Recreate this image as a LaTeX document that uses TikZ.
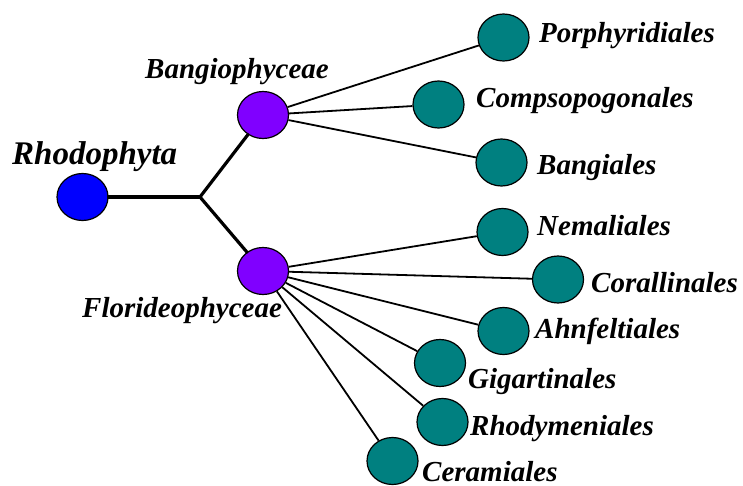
\documentclass[tikz,border=0pt]{standalone}
\usepackage{fontspec}
\setmainfont{Liberation Serif}
\usetikzlibrary{shapes.geometric}
\definecolor{rootblue}{HTML}{0000FF}
\definecolor{classviolet}{HTML}{8000FF}
\definecolor{orderteal}{HTML}{008080}
\tikzset{
  blob/.style={ellipse, draw=black, line width=1.2pt, inner sep=0pt,
    minimum width=51pt, minimum height=47pt},
  rootblob/.style={blob, fill=rootblue},
  classblob/.style={blob, fill=classviolet},
  orderblob/.style={blob, fill=orderteal},
  stem/.style={line width=3.2pt, line cap=round},
  twig/.style={line width=1.8pt},
  lbl/.style={anchor=base west, inner sep=0pt,
    font=\fontsize{29}{32}\selectfont\bfseries\itshape},
  biglbl/.style={anchor=base west, inner sep=0pt,
    font=\fontsize{33}{36}\selectfont\bfseries\itshape}
}
\begin{document}
\begin{tikzpicture}[x=1pt,y=-1pt]
\useasboundingbox (0,0) rectangle (743,486);

% root, classes and orders
\node[rootblob]  (rho)  at (82.5,197) {};
\coordinate (j) at (200,197);
\node[classblob] (ban)  at (263,115) {};
\node[classblob] (flo)  at (263,271) {};

\node[orderblob] (por)  at (503.5,37.5) {};
\node[orderblob] (com)  at (438.5,104.5) {};
\node[orderblob] (bag)  at (501.5,162.5) {};

\node[orderblob] (nem)  at (502.5,232) {};
\node[orderblob] (cor)  at (558,279.5) {};
\node[orderblob] (ahn)  at (503.5,331) {};
\node[orderblob] (gig)  at (440,363) {};
\node[orderblob] (rhy)  at (442.5,422) {};
\node[orderblob] (cer)  at (392.5,461) {};

% trunk
\draw[stem] (rho) -- (j);
\draw[stem] (j) -- (ban);
\draw[stem] (j) -- (flo);

% branches
\foreach \t in {por,com,bag} \draw[twig] (ban) -- (\t);
\foreach \t in {nem,cor,ahn,gig,rhy,cer} \draw[twig] (flo) -- (\t);

% labels
\node[biglbl] (lrho) at (12,165) {Rhodophyta};
\node[lbl] (lban) at (145,79)  {Bangiophyceae};
\node[lbl] (lflo) at (82,317)  {Florideophyceae};
\node[lbl] (lpor) at (539,43)  {Porphyridiales};
\node[lbl] (lcom) at (476,108) {Compsopogonales};
\node[lbl] (lbag) at (537,175) {Bangiales};
\node[lbl] (lnem) at (537,235) {Nemaliales};
\node[lbl] (lcor) at (591,292) {Corallinales};
\node[lbl] (lahn) at (535,338) {Ahnfeltiales};
\node[lbl] (lgig) at (468,388) {Gigartinales};
\node[lbl] (lrhy) at (470,435) {Rhodymeniales};
\node[lbl] (lcer) at (422,481) {Ceramiales};
\end{tikzpicture}
\end{document}
